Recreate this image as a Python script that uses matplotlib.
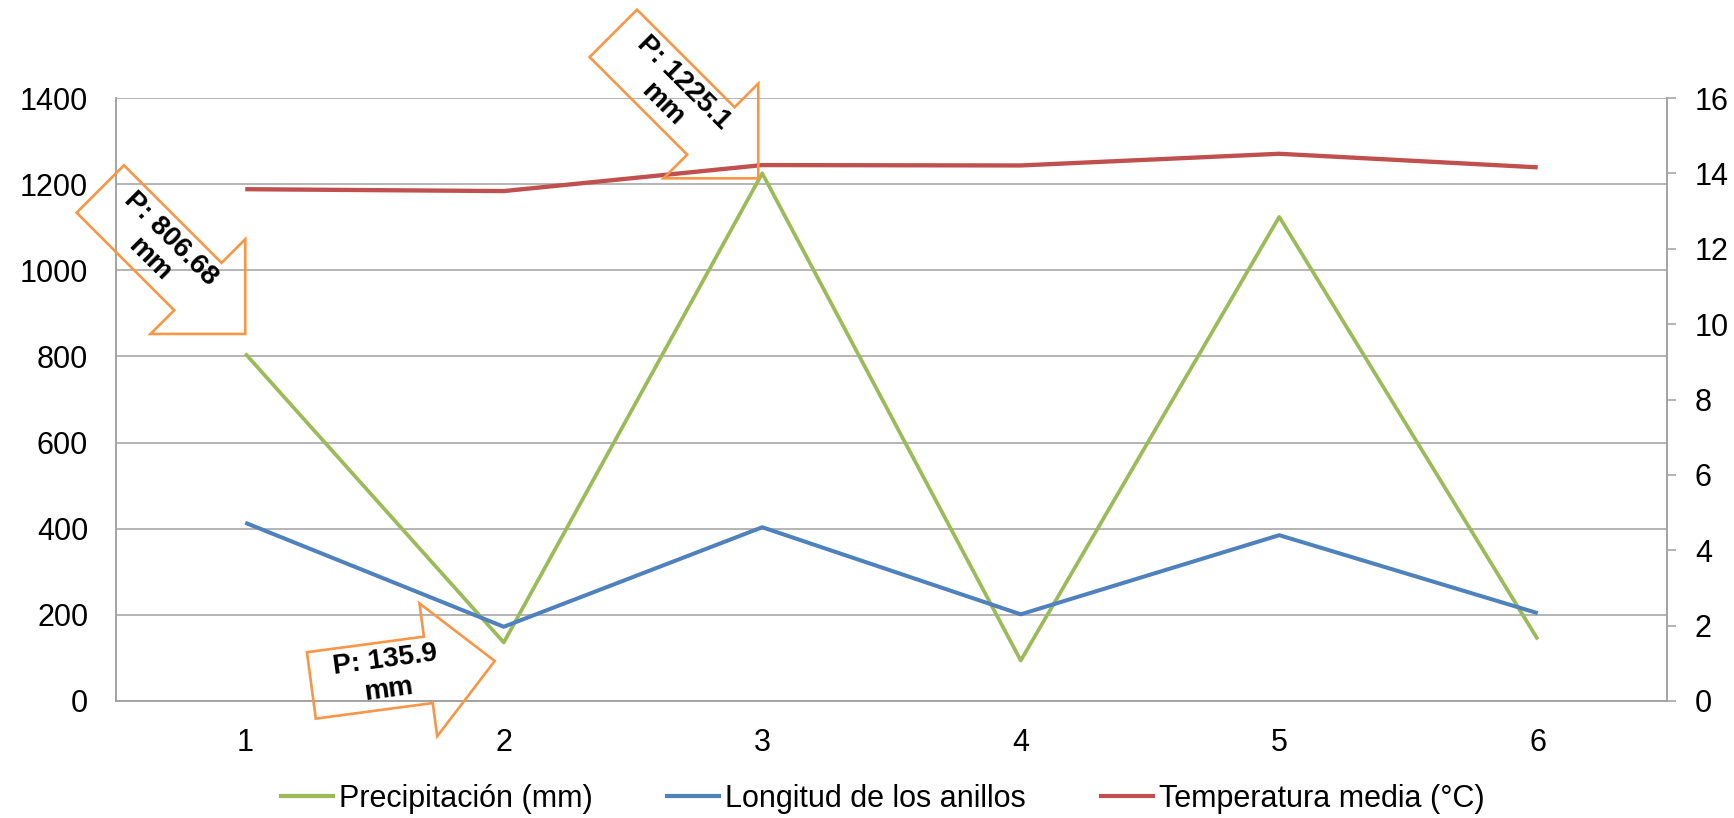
import matplotlib
matplotlib.use("Agg")
import matplotlib.pyplot as plt
import numpy as np
from matplotlib.patches import Polygon
from matplotlib.transforms import Affine2D
from matplotlib.lines import Line2D

plt.rcParams['font.family'] = ['Liberation Sans', 'DejaVu Sans']

# ---- data ----
categories = [1, 2, 3, 4, 5, 6]
precipitacion = [806.68, 135.9, 1225.1, 94, 1124, 143]
longitud = [4.73, 1.97, 4.61, 2.30, 4.40, 2.33]
temperatura = [13.58, 13.53, 14.22, 14.21, 14.52, 14.16]
labels = ["Precipitación (mm)", "Longitud de los anillos", "Temperatura media (°C)"]
left_ticks = [0, 200, 400, 600, 800, 1000, 1200, 1400]
right_ticks = [0, 2, 4, 6, 8, 10, 12, 14, 16]
# annotations: (category index, text)
callouts = [(0, "P: 806.68\nmm"), (2, "P: 1225.1\nmm"), (1, "P: 135.9\nmm")]

GREEN = "#9BBB59"
BLUE = "#4F81BD"
RED = "#C0504D"
ORANGE = "#F79646"
GRID = "#A0A0A0"
FS = 22

W, H = 1734, 818
fig = plt.figure(figsize=(W / 100, H / 100), dpi=100)
ax = fig.add_axes([116 / W, 1 - 701 / H, (1667 - 116) / W, (701 - 98) / H])
ax2 = ax.twinx()

x = np.array(categories)
ax.plot(x, precipitacion, color=GREEN, lw=2.7, solid_capstyle='butt', zorder=3)
ax2.plot(x, longitud, color=BLUE, lw=2.9, solid_capstyle='butt', zorder=3)
ax2.plot(x, temperatura, color=RED, lw=3.1, solid_capstyle='butt', zorder=3)

ax.set_xlim(0.5, 6.5)
ax.set_ylim(0, 1400)
ax2.set_ylim(0, 16)
ax.set_yticks(left_ticks)
ax2.set_yticks(right_ticks)
ax.set_xticks(categories)
ax.set_xticklabels([str(c) for c in categories])

ax.yaxis.grid(True, color=GRID, lw=1.1)
ax.set_axisbelow(True)
for a in (ax, ax2):
    for s in a.spines.values():
        s.set_color(GRID)
        s.set_linewidth(1.1)
ax.spines['top'].set_visible(False)
ax2.spines['top'].set_visible(False)

ax.tick_params(axis='y', length=0, pad=20, labelsize=FS, labelcolor='black')
ax.tick_params(axis='x', length=0, pad=19.5, labelsize=FS, labelcolor='black')
ax2.tick_params(axis='y', length=6.5, width=1.1, color=GRID, direction='out',
                pad=13.5, labelsize=FS, labelcolor='black')

handles = [Line2D([], [], color=GREEN, lw=3),
           Line2D([], [], color=BLUE, lw=3),
           Line2D([], [], color=RED, lw=3)]
fig.legend(handles, labels, loc='center', bbox_to_anchor=(0.509, 0.023), ncol=3,
           frameon=False, fontsize=FS, handlelength=1.7, handletextpad=0.2,
           columnspacing=2.45)

# ---- callout arrows (display pixel geometry anchored to data points) ----
def draw_callout(xd, yd, offset, angle, body, text_u, text, text_rot):
    fig.canvas.draw()
    px, py = ax.transData.transform((xd, yd))
    tx, ty = px + offset[0], py + offset[1]
    Hh, hw, w = 67.0, 67.0, 33.5
    verts = [(-(body + Hh), w), (-Hh, w), (-Hh, hw), (0, 0),
             (-Hh, -hw), (-Hh, -w), (-(body + Hh), -w)]
    tr = Affine2D().rotate_deg(angle).translate(tx, ty)
    poly = Polygon(verts, closed=True, fill=False, edgecolor=ORANGE, lw=1.9,
                   joinstyle='miter', transform=tr, zorder=10, clip_on=False)
    fig.add_artist(poly)
    cx, cy = tr.transform((-(body + Hh) + text_u, 0))
    fig.text(cx / W, cy / H, text, rotation=text_rot, rotation_mode='anchor',
             ha='center', va='center', fontsize=20, fontweight='bold',
             linespacing=1.2, color='black', zorder=11)

geom = {0: dict(offset=(0, 19.6), angle=-45, body=138, text_u=85),
        2: dict(offset=(-4, -5), angle=-45, body=138, text_u=85),
        1: dict(offset=(-9, -18.5), angle=7.6, body=118, text_u=76)}
for idx, txt in callouts:
    g = geom[idx]
    draw_callout(categories[idx], precipitacion[idx], g['offset'], g['angle'],
                 g['body'], g['text_u'], txt, g['angle'])

fig.savefig("out.png", dpi=100)
